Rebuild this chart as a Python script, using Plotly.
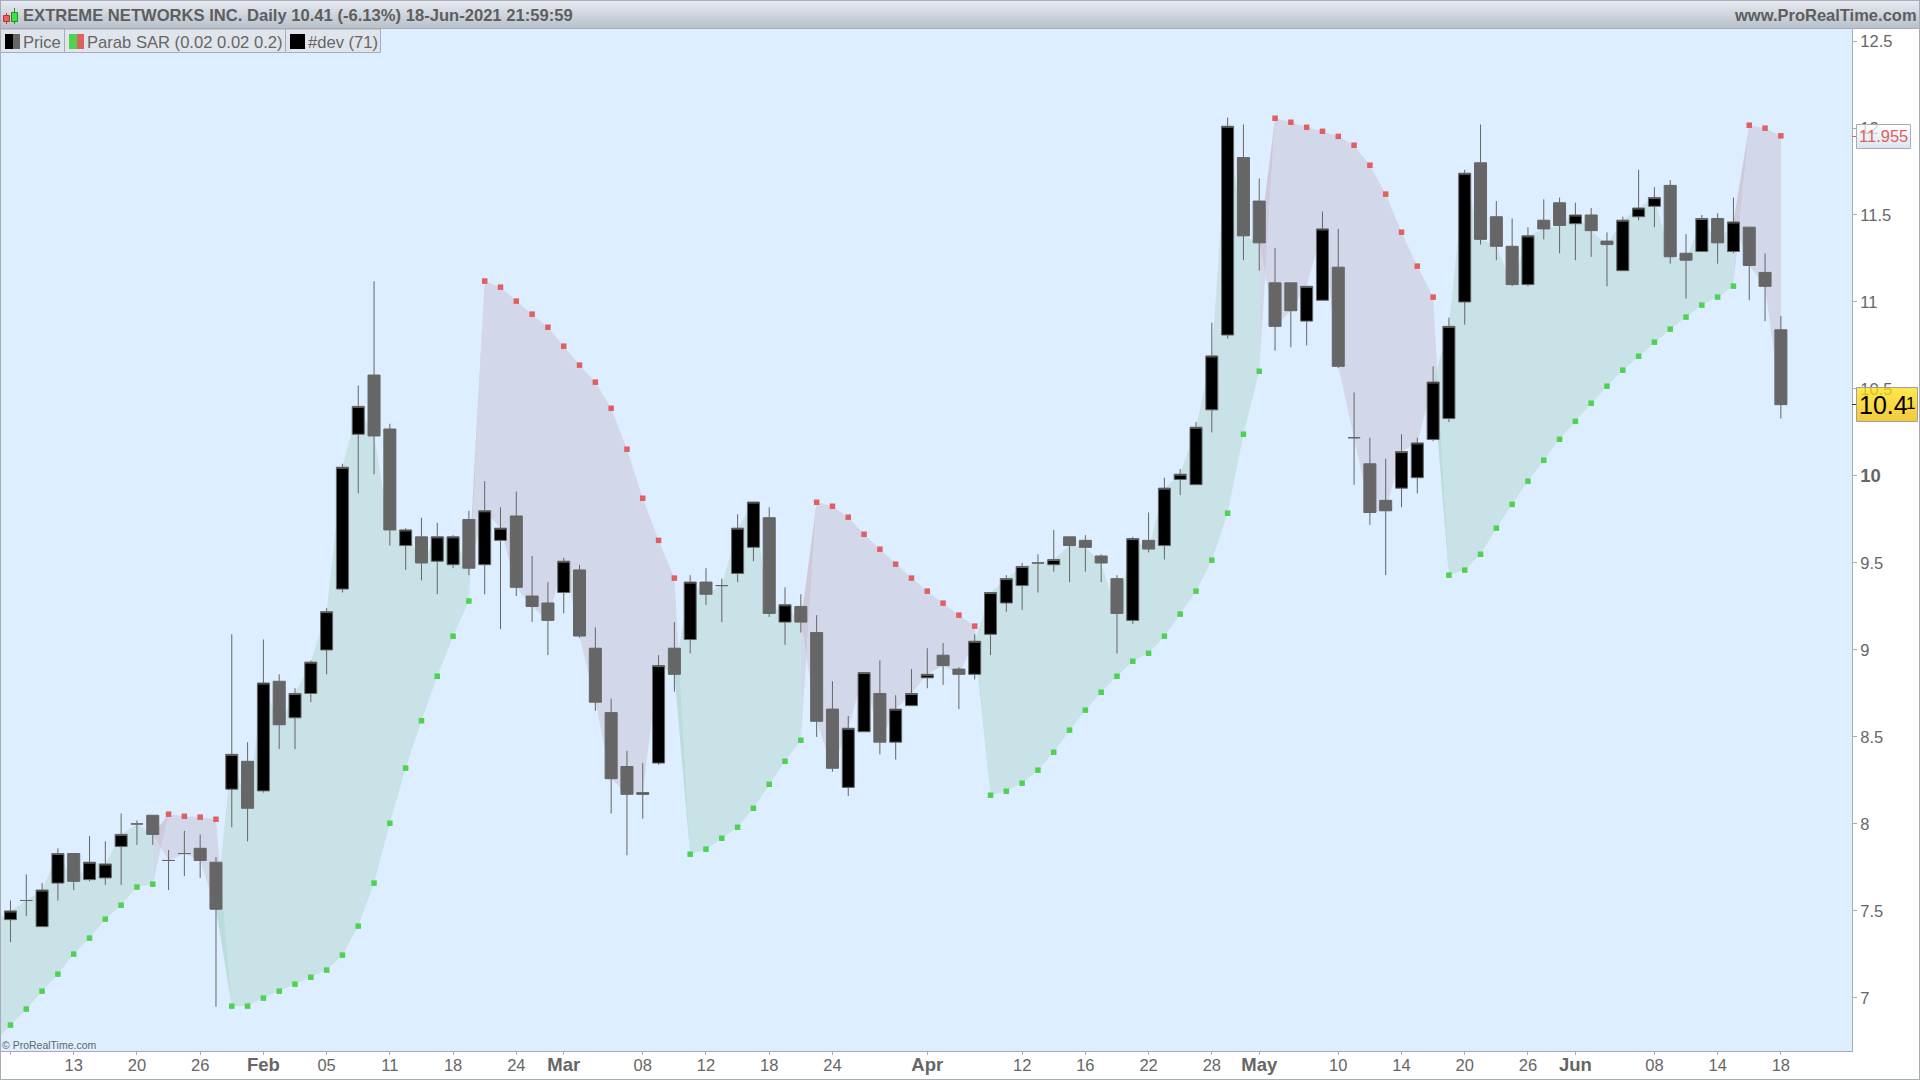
import plotly.graph_objects as go

opens = [7.45,7.56,7.41,7.66,7.83,7.68,7.69,7.87,8.00,8.05,7.79,7.83,7.86,7.78,8.20,8.36,8.19,8.82,8.61,8.75,
9.00,9.35,10.24,10.58,10.27,9.60,9.65,9.51,9.49,9.75,9.49,9.63,9.77,9.31,9.27,9.33,9.46,9.01,8.64,8.33,
8.17,8.35,9.01,9.06,9.39,9.37,9.44,9.59,9.76,9.16,9.25,9.10,8.66,8.21,8.53,8.75,8.47,8.68,8.84,8.97,
8.89,8.86,9.09,9.27,9.37,9.50,9.49,9.65,9.63,9.54,9.41,9.17,9.63,9.60,9.98,9.95,10.38,10.81,11.83,11.58,
11.11,11.11,10.89,11.01,11.20,10.22,10.07,9.86,9.93,9.99,10.21,10.33,11.00,11.80,11.49,11.32,11.10,11.47,11.57,11.45,
11.50,11.35,11.18,11.49,11.55,11.67,11.28,11.29,11.48,11.29,11.43,11.17,10.84]
highs = [7.56,7.71,7.66,7.86,7.83,7.93,7.90,8.06,8.02,8.05,7.85,7.96,7.94,7.81,9.09,8.47,9.06,8.86,8.78,8.94,
9.24,10.07,10.52,11.12,10.30,9.70,9.76,9.73,9.66,9.80,9.97,9.82,9.91,9.54,9.39,9.53,9.49,9.13,8.72,8.42,
8.35,8.97,9.16,9.43,9.47,9.41,9.78,9.85,9.82,9.36,9.32,9.20,8.82,8.62,8.87,8.94,8.74,8.89,9.01,9.04,
8.90,9.09,9.33,9.43,9.50,9.55,9.69,9.65,9.66,9.55,9.43,9.65,9.79,9.99,10.04,10.31,10.88,12.06,12.02,11.71,
11.31,11.11,11.09,11.52,11.42,10.48,10.22,10.10,10.24,10.22,10.63,10.91,11.76,12.02,11.58,11.48,11.43,11.59,11.60,11.57,
11.54,11.40,11.49,11.76,11.66,11.70,11.39,11.50,11.51,11.60,11.43,11.28,10.92]
lows = [7.32,7.47,7.41,7.56,7.62,7.67,7.65,7.65,7.88,7.88,7.62,7.70,7.69,6.95,7.98,7.90,8.18,8.43,8.43,8.70,
8.86,9.33,9.90,10.01,9.60,9.46,9.40,9.32,9.47,9.43,9.32,9.12,9.31,9.16,8.97,9.21,9.07,8.65,8.06,7.82,
8.03,8.34,8.76,8.98,9.26,9.16,9.39,9.51,9.19,9.03,9.10,8.50,8.30,8.16,8.53,8.40,8.37,8.68,8.78,8.80,
8.66,8.83,8.97,9.22,9.23,9.33,9.45,9.39,9.45,9.39,8.98,9.15,9.56,9.52,9.89,9.95,10.25,10.79,11.24,11.18,
10.72,10.74,10.75,11.01,10.62,9.95,9.72,9.43,9.82,9.90,10.20,10.31,10.87,11.33,11.24,11.09,11.09,11.36,11.28,11.24,
11.26,11.09,11.18,11.47,11.43,11.22,11.02,11.29,11.22,11.28,11.01,10.89,10.33]
closes = [7.50,7.56,7.62,7.83,7.67,7.78,7.77,7.94,8.00,7.94,7.79,7.83,7.79,7.51,8.40,8.09,8.81,8.57,8.75,8.93,
9.22,10.05,10.40,10.23,9.69,9.69,9.50,9.65,9.65,9.47,9.80,9.70,9.36,9.25,9.17,9.51,9.08,8.70,8.26,8.17,
8.18,8.91,8.86,9.39,9.32,9.37,9.70,9.85,9.21,9.26,9.16,8.59,8.32,8.55,8.87,8.47,8.66,8.75,8.86,8.91,
8.86,9.05,9.33,9.41,9.48,9.50,9.52,9.60,9.59,9.50,9.21,9.64,9.58,9.93,10.01,10.28,10.69,12.01,11.38,11.34,
10.86,10.95,11.09,11.42,10.63,10.22,9.79,9.80,10.14,10.19,10.54,10.86,11.74,11.36,11.32,11.10,11.38,11.42,11.44,11.50,
11.41,11.33,11.47,11.54,11.60,11.26,11.24,11.48,11.34,11.46,11.21,11.09,10.41]
sar = [6.844,6.936,7.039,7.137,7.252,7.344,7.453,7.533,7.637,7.654,8.056,8.044,8.039,8.027,6.953,6.953,6.999,7.039,7.079,7.119,
7.160,7.246,7.413,7.660,8.004,8.321,8.593,8.849,9.079,9.281,11.120,11.085,11.005,10.930,10.855,10.746,10.637,10.539,10.389,10.154,
9.872,9.630,9.413,7.826,7.855,7.918,7.981,8.090,8.228,8.360,8.481,9.849,9.826,9.763,9.665,9.579,9.493,9.413,9.338,9.269,
9.200,9.137,8.165,8.188,8.234,8.309,8.412,8.539,8.654,8.757,8.849,8.935,8.981,9.079,9.206,9.338,9.516,9.786,10.240,10.602,
12.056,12.033,12.004,11.981,11.952,11.901,11.786,11.620,11.401,11.206,11.028,9.430,9.459,9.550,9.700,9.837,9.970,10.090,10.211,10.314,
10.418,10.516,10.608,10.688,10.769,10.844,10.913,10.982,11.028,11.091,12.016,11.999,11.955]
prior_close = 7.44
prior_sar = 6.75

BIG = '<span style="font-size:18.5px"><b>%s</b></span>'
x_tick_index = [0,4,8,12,16,20,24,28,32,35,40,44,48,52,58,64,68,72,76,79,84,88,92,96,99,104,108,112]
x_tick_text = ["","13","20","26",BIG % "Feb","05","11","18","24",BIG % "Mar","08","12","18","24",BIG % "Apr",
               "12","16","22","28",BIG % "May","10","14","20","26",BIG % "Jun","08","14","18"]
y_tick_vals = [12.5,12,11.5,11,10.5,10,9.5,9,8.5,8,7.5,7]
y_tick_text = ["12.5","12","11.5","11","10.5",BIG % "10","9.5","9","8.5","8","7.5","7"]

W, H = 1920, 1080
BG = "#DCEEFF"
PURPLE, GREEN = "#D2D8E9", "#C8E2E8"
PINK, DKGREEN = "#CECADB", "#BBDBDD"
AXIS = "#A8ADB5"
TXT = "#666666"
FONT = "Liberation Sans"
index = list(range(len(closes)))

def px(x): return x / W
def py(y): return 1 - y / H

# ---- fills between SAR and close, split by SAR side
polys = {PURPLE: ([], []), GREEN: ([], []), PINK: ([], []), DKGREEN: ([], [])}
def add_poly(col, pts):
    xs, ys = polys[col]
    xs.extend(p[0] for p in pts); ys.extend(p[1] for p in pts)
    xs.append(pts[0][0]); ys.append(pts[0][1])
    xs.append(None); ys.append(None)

red = [s > c for s, c in zip(sar, closes)]
a = 0
for i in range(1, len(closes) + 1):
    if i == len(closes) or red[i] != red[a]:
        b = i - 1
        col = PURPLE if red[a] else GREEN
        top = [(k, sar[k]) for k in range(a, b + 1)]
        bot = [(k, closes[k]) for k in range(b, a - 1, -1)]
        pts = top + bot
        if a == 0:
            pts = [(-1, prior_sar)] + pts + [(-1, prior_close)]
        add_poly(col, pts)
        if i < len(closes):
            s0, s1, c0, c1 = sar[b], sar[i], closes[b], closes[i]
            t = (c0 - s0) / ((s1 - s0) - (c1 - c0))
            cross = (b + t, s0 + t * (s1 - s0))
            new_col = PURPLE if red[i] else GREEN
            add_poly(PURPLE, [(b, s0), cross, (b, c0)])
            add_poly(new_col, [cross, (i, s1), (i, c1)])
            add_poly(PINK if red[i] else DKGREEN, [(b, c0), cross, (i, s1)])
        a = i

fig = go.Figure()
for col in (PURPLE, GREEN, PINK, DKGREEN):
    fig.add_trace(go.Scatter(x=polys[col][0], y=polys[col][1], mode="lines", line=dict(width=0),
                             fill="toself", fillcolor=col, hoverinfo="skip", showlegend=False))

fig.add_trace(go.Candlestick(x=index, open=opens, high=highs, low=lows, close=closes,
    xaxis="x2", yaxis="y2", whiskerwidth=0, hoverinfo="skip", showlegend=False,
    increasing=dict(fillcolor="#000000", line=dict(color=TXT, width=1)),
    decreasing=dict(fillcolor=TXT, line=dict(color=TXT, width=1))))

fig.add_trace(go.Scatter(x=index, y=sar, xaxis="x2", yaxis="y2", mode="markers", hoverinfo="skip", showlegend=False,
    marker=dict(symbol="square", size=5.5, line=dict(width=0),
                color=["#E06060" if r else "#4FD24F" for r in red])))

shapes, annos = [], []
def rect(x0, y0, x1, y1, fill, line=None):
    shapes.append(dict(type="rect", xref="paper", yref="paper", layer="above",
                       x0=px(x0), x1=px(x1), y0=py(y0), y1=py(y1), fillcolor=fill,
                       line=dict(color=line, width=1) if line else dict(width=0)))
def hexmix(c0, c1, t):
    a0 = [int(c0[i:i+2], 16) for i in (1, 3, 5)]; a1 = [int(c1[i:i+2], 16) for i in (1, 3, 5)]
    return "#" + "".join(f"{round(u+(v-u)*t):02X}" for u, v in zip(a0, a1))
def grad(x0, y0, x1, y1, c0, c1, line=None):
    n = int(y1 - y0)
    for k in range(n):
        rect(x0, y0 + k, x1, y0 + k + 1, hexmix(c0, c1, k / max(n - 1, 1)))
    if line:
        shapes.append(dict(type="rect", xref="paper", yref="paper", layer="above", x0=px(x0), x1=px(x1),
                           y0=py(y0), y1=py(y1), line=dict(color=line, width=1)))
def text(x, y, s, size, color=TXT, anchor="left", bold=False):
    annos.append(dict(xref="paper", yref="paper", x=px(x), y=py(y), text=f"<b>{s}</b>" if bold else s,
                      showarrow=False, xanchor=anchor, yanchor="middle", borderpad=0, borderwidth=0,
                      font=dict(family=FONT, size=size, color=color)))

# title bar
grad(0, 1, W, 28, "#E6E9F1", "#B9C1CB")
rect(0, 0, W, 1, AXIS); rect(0, 28, W, 29, AXIS)
text(23, 15.5, "EXTREME NETWORKS INC. Daily 10.41 (-6.13%) 18-Jun-2021 21:59:59", 16.6, "#5E5E5E", bold=True)
text(1917, 15.5, "www.ProRealTime.com", 16.5, "#5E5E5E", "right", True)
# title icon
rect(6, 13, 7, 24, "#C03030"); rect(14, 8, 15, 24, "#209020")
rect(3.5, 15.5, 9.5, 21.5, "#E86060", "#C03030"); rect(11.5, 12.5, 17.5, 21.5, "#40E040", "#209020")
# frame
rect(0, 0, 1, H, AXIS); rect(W - 1, 0, W, H, AXIS); rect(0, H - 1, W, H, AXIS)
# indicator legend
rect(0.5, 29, 64.5, 52.5, "#E0E4EC", AXIS)
rect(64.5, 29, 285.5, 52.5, "#E0E4EC", AXIS)
rect(285.5, 29, 380.5, 52.5, "#E0E4EC", AXIS)
rect(5, 34, 13, 49, "#000000"); rect(13, 34, 20, 49, TXT)
rect(69, 34, 77, 49, "#4FD24F"); rect(77, 34, 84, 49, "#E06060")
rect(290, 34, 305, 49, "#000000")
text(22.5, 42.5, "Price", 16.6)
text(86.5, 42.5, "Parab SAR (0.02 0.02 0.2)", 16.6)
text(307.5, 42.5, "#dev (71)", 16.6)
text(2, 1044.5, "© ProRealTime.com", 10.5)

# last-value tags
rect(1852, 136, 1856, 137, "#E06060")
rect(1852, 404, 1856, 405, "#333333")
grad(1856.5, 124.5, 1910.5, 148.5, "#FFFFFF", "#CFDDEC", AXIS)
text(1859, 136, "11.955", 16.5, "#E06060")
grad(1856.5, 387.5, 1917.5, 421.5, "#FFE010", "#F0B800", "#A0A0A0")
text(1858.5, 405, "10.4", 25, "#000000")
text(1906, 403, "1", 17, "#000000")

x_range = [-0.6, 116.5]
y_range = [6.695, 12.569]
dom_x = [1 / W, 1852 / W]
dom_y = [1 - 1051 / H, 1 - 29 / H]

fig.update_layout(
    width=W, height=H, margin=dict(l=0, r=0, t=0, b=0), autosize=False,
    paper_bgcolor="#FFFFFF", plot_bgcolor=BG, showlegend=False, boxgap=0.24, boxgroupgap=0,
    font=dict(family=FONT, size=16.5, color=TXT),
    shapes=shapes, annotations=annos,
    xaxis=dict(domain=dom_x, range=x_range, anchor="y", tickmode="array", tickvals=x_tick_index, ticktext=x_tick_text,
               ticks="outside", ticklen=3, tickcolor=AXIS, tickwidth=1, showgrid=False, zeroline=False,
               showline=True, linecolor=AXIS, linewidth=1, rangeslider=dict(visible=False), tickangle=0,
               ticklabelstandoff=-4, tickfont=dict(family=FONT, size=16.5, color=TXT)),
    yaxis=dict(domain=dom_y, range=y_range, anchor="x", side="right", tickmode="array", tickvals=y_tick_vals,
               ticktext=y_tick_text, ticks="outside", ticklen=4, tickcolor=AXIS, tickwidth=1, showgrid=False,
               zeroline=False, showline=True, linecolor=AXIS, linewidth=1,
               tickfont=dict(family=FONT, size=16.5, color=TXT)),
    xaxis2=dict(domain=dom_x, range=x_range, anchor="y2", overlaying="x", visible=False,
                rangeslider=dict(visible=False), showgrid=False, zeroline=False),
    yaxis2=dict(domain=dom_y, range=y_range, anchor="x2", overlaying="y", visible=False,
                showgrid=False, zeroline=False),
)

fig.write_html("out.html", config={"displayModeBar": False},
               post_script="document.body.style.margin='0';document.body.style.overflow='hidden';")
